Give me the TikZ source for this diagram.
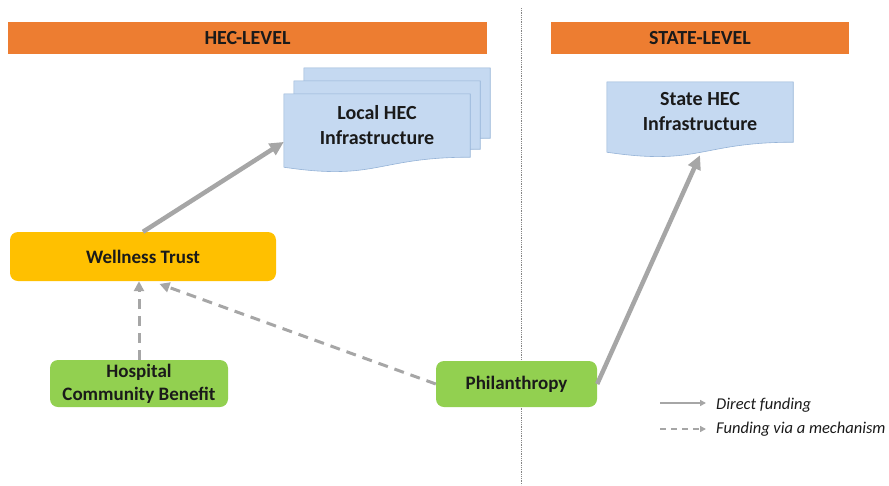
\documentclass[tikz,border=0pt]{standalone}
\usepackage{fontspec}
\setmainfont{Carlito}
\usetikzlibrary{positioning,calc,arrows.meta,backgrounds}

\definecolor{barorange}{HTML}{ED7D31}
\definecolor{trustyellow}{HTML}{FFC000}
\definecolor{fundgreen}{HTML}{92D050}
\definecolor{docblue}{HTML}{C5D9F1}
\definecolor{docedge}{HTML}{95B3D7}
\definecolor{arrowgray}{HTML}{A6A6A6}
\definecolor{inkdark}{HTML}{1A1A1A}

% wavy document outline below a node
\newcommand\wavedoc[1]{%
  \draw[docshape] (#1.north west) -- (#1.north east) -- (#1.south east)
    .. controls (#1.south) and ($(#1.south)+(0,24)$) .. ($(#1.south west)+(0,10)$) -- cycle;}

\begin{document}
\begin{tikzpicture}
	  [x=1pt,y=-1pt,every node/.style={text=inkdark,font=\fontsize{19}{23}\selectfont\bfseries,align=center,inner sep=0pt},
	   bar/.style={fill=barorange,minimum height=32pt,font=\fontsize{20}{24}\selectfont\bfseries},
	   fund/.style={fill=#1,rounded corners=8pt},
	   docnode/.style={minimum width=186pt,minimum height=#1,font=\fontsize{20}{25}\selectfont\bfseries},
	   docshape/.style={fill=docblue,draw=docedge,line width=.6pt},
	   direct/.style={draw=arrowgray,line width=4.5pt,-{Triangle[length=14pt,width=13pt]}},
	   viamech/.style={draw=arrowgray,line width=3pt,dash pattern=on 10pt off 7pt,-{Triangle[length=10pt,width=10pt]}},
	   legtext/.style={font=\fontsize{16.5}{19}\selectfont\itshape,anchor=west}]
	  \useasboundingbox (0,0) rectangle (889,485);

	  \draw[arrowgray!80!black,densely dotted,line width=.8pt] (521,8) -- (521,485);

	  \node[bar,minimum width=479pt] (hecbar) at (247.5,38) {HEC-LEVEL};
	  \node[bar,minimum width=298pt] (statebar) at (700,38) {STATE-LEVEL};

	  \node[docnode=70pt] (local3) at (397,103) {};
	  \node[docnode=68pt] (local2) at (387,115) {};
	  \node[docnode=63pt] (local) at (377,125.5) {Local HEC\\Infrastructure};
	  \node[docnode=60pt] (state) at (700,112) {State HEC\\Infrastructure};
	  \begin{scope}[on background layer]
	    \wavedoc{local3}
	    \wavedoc{local2}
	    \wavedoc{local}
	    \wavedoc{state}
	  \end{scope}

	  \node[fund=trustyellow,minimum width=266pt,minimum height=49pt] (well) at (143,256.5) {Wellness Trust};
	  \node[fund=fundgreen,minimum width=178pt,minimum height=47pt] (hosp) at (139,383.5) {Hospital\\Community Benefit};
	  \node[fund=fundgreen,minimum width=161pt,minimum height=46pt] (phil) at (516.5,384) {Philanthropy};

	  \coordinate (statetip) at ($(state.south)+(0,13)$);
	  \draw[direct] (well.north) -- (local.190);
	  \draw[direct] (phil.east) -- (statetip);
	  \draw[viamech] (hosp.north) -- (hosp.north |- well.south);
	  \draw[viamech,shorten >=8pt] (phil.west) -- (well.-70);

	  % legend
	  \coordinate (d1) at (660,403);
	  \coordinate (d2) at (706,403);
	  \coordinate (m1) at (660,429);
	  \coordinate (m2) at (706,429);
	  \draw[draw=arrowgray,line width=2pt,-{Triangle[length=6pt,width=6pt]}] (d1) -- (d2);
	  \draw[draw=arrowgray,line width=2pt,dash pattern=on 6pt off 5pt,-{Triangle[length=6pt,width=6pt]}] (m1) -- (m2);
	  \node[legtext] (ldirect) at (716,405) {Direct funding};
	  \node[legtext] (lmech) at (716,429) {Funding via a mechanism};
	\end{tikzpicture}
\end{document}
